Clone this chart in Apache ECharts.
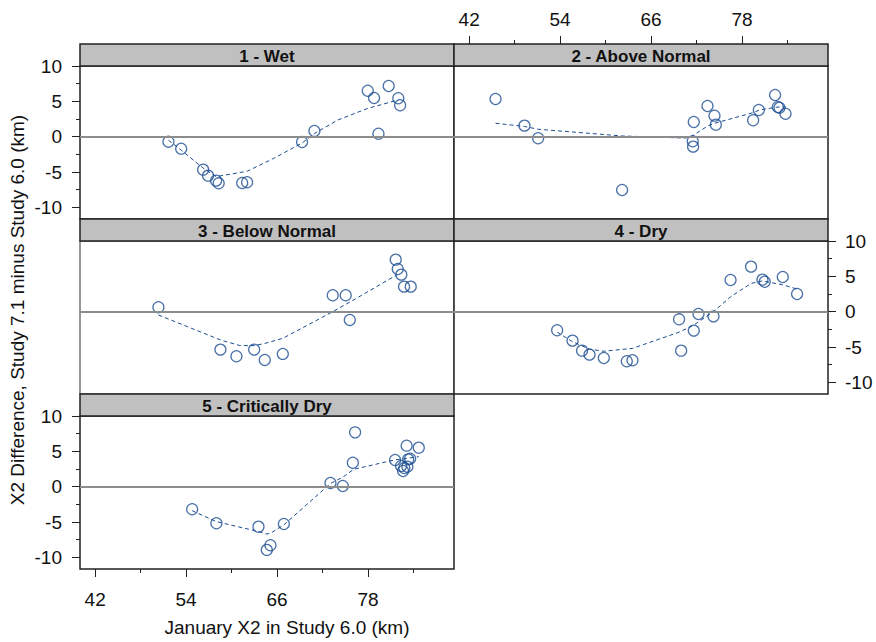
<!DOCTYPE html>
<html><head><meta charset="utf-8">
<script src="https://cdn.jsdelivr.net/npm/echarts@6/dist/echarts.min.js"></script>
<style>html,body{margin:0;padding:0;background:#fff}#c{width:876px;height:642px}</style>
</head><body><div id="c"></div>
<script>
// ---------------- data ----------------
const panelNames = ['1 - Wet', '2 - Above Normal', '3 - Below Normal', '4 - Dry', '5 - Critically Dry'];
const xTickLabels = [42, 54, 66, 78];
const yTickLabels = [-10, -5, 0, 5, 10];

const wetX = [51.67, 53.35, 56.25, 56.9, 57.96, 58.3, 61.4, 62.05, 69.3, 70.93, 77.97, 78.8, 79.38, 80.73, 82.0, 82.24];
const wetY = [-0.71, -1.70, -4.67, -5.52, -6.22, -6.6, -6.55, -6.45, -0.75, 0.81, 6.5, 5.47, 0.42, 7.17, 5.43, 4.44];
const wetFitX = [51.67, 53.35, 56.25, 57.96, 62.05, 65.5, 69.3, 70.93, 74.0, 77.97, 82.0];
const wetFitY = [-0.5, -1.9, -4.45, -5.65, -4.9, -3.1, -0.9, 0.45, 2.35, 4.0, 5.2];

const aboveX = [45.48, 49.3, 51.1, 62.18, 71.64, 71.5, 71.55, 73.45, 74.37, 74.55, 79.47, 80.22, 82.37, 82.73, 82.95, 83.74];
const aboveY = [5.33, 1.56, -0.23, -7.54, 2.08, -0.65, -1.41, 4.34, 2.97, 1.7, 2.32, 3.78, 5.9, 4.2, 4.1, 3.25];
const aboveFitX = [45.48, 49.3, 51.1, 62.18, 70.5, 71.3, 73.45, 74.4, 79.47, 80.3, 82.75, 83.74];
const aboveFitY = [1.9, 1.45, 1.05, 0.1, -0.2, 0.0, 1.5, 1.9, 3.4, 3.78, 4.2, 4.2];

const belowX = [50.35, 58.53, 60.64, 62.98, 64.38, 66.76, 73.35, 75.06, 75.6, 81.66, 81.93, 82.4, 82.76, 83.64];
const belowY = [0.62, -5.37, -6.31, -5.37, -6.83, -5.98, 2.32, 2.32, -1.17, 7.36, 6.04, 5.24, 3.54, 3.54];
const belowFitX = [50.35, 58.53, 61.1, 62.98, 64.38, 66.76, 73.35, 75.06, 75.6, 81.8];
const belowFitY = [-0.47, -4.0, -4.8, -4.8, -4.5, -3.77, 0.0, 1.04, 1.35, 5.2];

const dryX = [53.61, 55.64, 56.9, 57.88, 59.77, 62.8, 63.55, 69.7, 69.97, 71.64, 72.26, 74.24, 76.49, 79.2, 80.7, 81.0, 83.38, 85.27];
const dryY = [-2.63, -4.1, -5.52, -6.08, -6.55, -7.02, -6.88, -1.08, -5.52, -2.68, -0.33, -0.66, 4.48, 6.37, 4.53, 4.24, 4.91, 2.5];
const dryFitX = [53.61, 55.64, 57.88, 59.77, 63.55, 69.7, 71.64, 74.24, 76.49, 79.2, 80.7, 83.38, 85.27];
const dryFitY = [-2.9, -4.25, -5.3, -5.6, -5.2, -2.9, -1.9, 0.0, 2.1, 4.0, 4.35, 3.8, 3.2];

const critX = [54.8, 58.0, 63.55, 65.13, 64.65, 66.9, 73.05, 74.68, 76.3, 76.0, 81.58, 82.37, 82.63, 82.8, 83.1, 83.2, 83.3, 83.56, 84.7];
const critY = [-3.2, -5.18, -5.66, -8.29, -8.95, -5.28, 0.52, 0.1, 7.69, 3.39, 3.78, 2.93, 2.22, 2.64, 5.8, 2.83, 3.87, 3.96, 5.52];
const critFitX = [54.8, 58.0, 63.55, 64.65, 65.13, 66.9, 73.05, 74.68, 76.1, 81.58, 83.1, 84.7];
const critFitY = [-3.4, -4.95, -6.35, -6.7, -6.6, -5.4, 0.45, 1.35, 2.45, 3.8, 4.0, 4.25];

const panelX = [wetX, aboveX, belowX, dryX, critX];
const panelY = [wetY, aboveY, belowY, dryY, critY];
const fitX = [wetFitX, aboveFitX, belowFitX, dryFitX, critFitX];
const fitY = [wetFitY, aboveFitY, belowFitY, dryFitY, critFitY];

// ---------------- layout ----------------
const FONT = '"Liberation Sans", Arial, sans-serif';
const BLUE = '#1c4d91';
const X_MIN = 40, X_MAX = 89.35, Y_MIN = -11.65, Y_MAX = 10;
const PW = 374, PH = 153, STRIP = 22;
const COLS = [80, 454];
const ROWS = [66, 241, 416];
const panelPos = [[0, 0], [1, 0], [0, 1], [1, 1], [0, 2]];
const SX = PW / (X_MAX - X_MIN);
const SY = PH / (Y_MAX - Y_MIN);
const MAJOR = 8, MINOR = 4;

const grid = [], xAxis = [], yAxis = [], series = [], graphic = [];

const hiddenX = (gi) => ({ type: 'value', gridIndex: gi, min: X_MIN, max: X_MAX, show: false });
const hiddenY = (gi) => ({ type: 'value', gridIndex: gi, min: Y_MIN, max: Y_MAX, show: false });

panelPos.forEach((p, i) => {
  const left = COLS[p[0]], top = ROWS[p[1]];
  grid.push({ left: left, top: top, width: PW, height: PH, show: true,
    borderColor: (i === 2 ? '#777' : '#222'), borderWidth: 1.5, backgroundColor: '#fff' });
  xAxis.push(hiddenX(i));
  yAxis.push(hiddenY(i));
  series.push({
    type: 'scatter', xAxisIndex: i, yAxisIndex: i, symbol: 'circle', symbolSize: 11,
    itemStyle: { color: 'rgba(0,0,0,0)', borderColor: BLUE, borderWidth: 1.25 },
    data: panelX[i].map((x, k) => [x, panelY[i][k]]),
    markLine: { silent: true, symbol: 'none', label: { show: false },
      lineStyle: { color: '#8c8c8c', width: 2, type: 'solid' }, data: [{ yAxis: 0 }] },
    z: 3
  });
  series.push({
    type: 'line', xAxisIndex: i, yAxisIndex: i, showSymbol: false, symbol: 'none',
    lineStyle: { color: BLUE, width: 1, type: [4, 3] },
    data: fitX[i].map((x, k) => [x, fitY[i][k]]), z: 4
  });
  graphic.push({ type: 'rect', shape: { x: left, y: top - STRIP, width: PW, height: STRIP },
    style: { fill: '#c0c0c0', stroke: '#222', lineWidth: 1.5 }, z: 10 });
  graphic.push({ type: 'text', x: left + PW / 2, y: top - STRIP / 2 + 1, z: 11,
    style: { text: panelNames[i], fill: '#111', font: 'bold 17px ' + FONT,
      textAlign: 'center', textVerticalAlign: 'middle' } });
});

const tickLine = { show: true, lineStyle: { color: '#222', width: 1, type: 'solid' } };
const labelStyle = { color: '#111', fontSize: 19, fontFamily: FONT };

// tick strips: narrow grids whose split lines act as the axis ticks
function addYTicks(col, row, side, len, ivl, labelled) {
  const gi = grid.length;
  const edge = side === 'left' ? COLS[col] - len : COLS[col] + PW;
  grid.push({ left: edge, top: ROWS[row] + (Y_MAX - 10) * SY, width: len, height: 20 * SY });
  xAxis.push({ type: 'value', gridIndex: gi, min: 0, max: 1, show: false });
  yAxis.push({ type: 'value', gridIndex: gi, position: side, min: -10, max: 10, interval: ivl,
    axisLine: { show: false }, axisTick: { show: false }, splitLine: tickLine,
    axisLabel: Object.assign({ show: labelled, margin: (side === 'left' ? 10 : 9),
      formatter: v => (yTickLabels.indexOf(v) >= 0 ? String(v) : '') }, labelStyle) });
}
function addXTicks(col, side, len, ivl, maxV, labelled) {
  const gi = grid.length;
  const x0 = COLS[col] + (42 - X_MIN) * SX;
  const top = side === 'bottom' ? ROWS[2] + PH : ROWS[0] - STRIP - len;
  grid.push({ left: x0, top: top, width: (maxV - 42) * SX, height: len });
  yAxis.push({ type: 'value', gridIndex: gi, min: 0, max: 1, show: false });
  xAxis.push({ type: 'value', gridIndex: gi, position: side, min: 42, max: maxV, interval: ivl,
    axisLine: { show: false }, axisTick: { show: false }, splitLine: tickLine,
    axisLabel: Object.assign({ show: labelled, margin: (side === 'top' ? 7 : 13),
      formatter: v => (xTickLabels.indexOf(v) >= 0 ? String(v) : '') }, labelStyle) });
}
// left axes of panels 1 and 5, right axis of panel 4
addYTicks(0, 0, 'left', MAJOR, 5, true);
addYTicks(0, 0, 'left', MINOR, 2.5, false);
addYTicks(0, 2, 'left', MAJOR, 5, true);
addYTicks(0, 2, 'left', MINOR, 2.5, false);
addYTicks(1, 1, 'right', MAJOR, 5, true);
addYTicks(1, 1, 'right', MINOR, 2.5, false);
// bottom axis of panel 5, top axis of panel 2
addXTicks(0, 'bottom', MAJOR, 12, 78, true);
addXTicks(0, 'bottom', MINOR, 6, 84, false);
addXTicks(1, 'top', MAJOR, 12, 78, true);
addXTicks(1, 'top', MINOR, 6, 84, false);

graphic.push({ type: 'text', x: 17, y: 310, rotation: Math.PI / 2,
  style: { text: 'X2 Difference, Study 7.1 minus Study 6.0 (km)', fill: '#111',
    font: '19px ' + FONT, textAlign: 'center', textVerticalAlign: 'middle' } });
graphic.push({ type: 'text', x: 287, y: 627,
  style: { text: 'January X2 in Study 6.0 (km)', fill: '#111',
    font: '19px ' + FONT, textAlign: 'center', textVerticalAlign: 'middle' } });

const chart = echarts.init(document.getElementById('c'), null, { renderer: 'svg' });
chart.setOption({ animation: false, backgroundColor: '#fff', grid, xAxis, yAxis, series, graphic });
</script>
</body></html>
